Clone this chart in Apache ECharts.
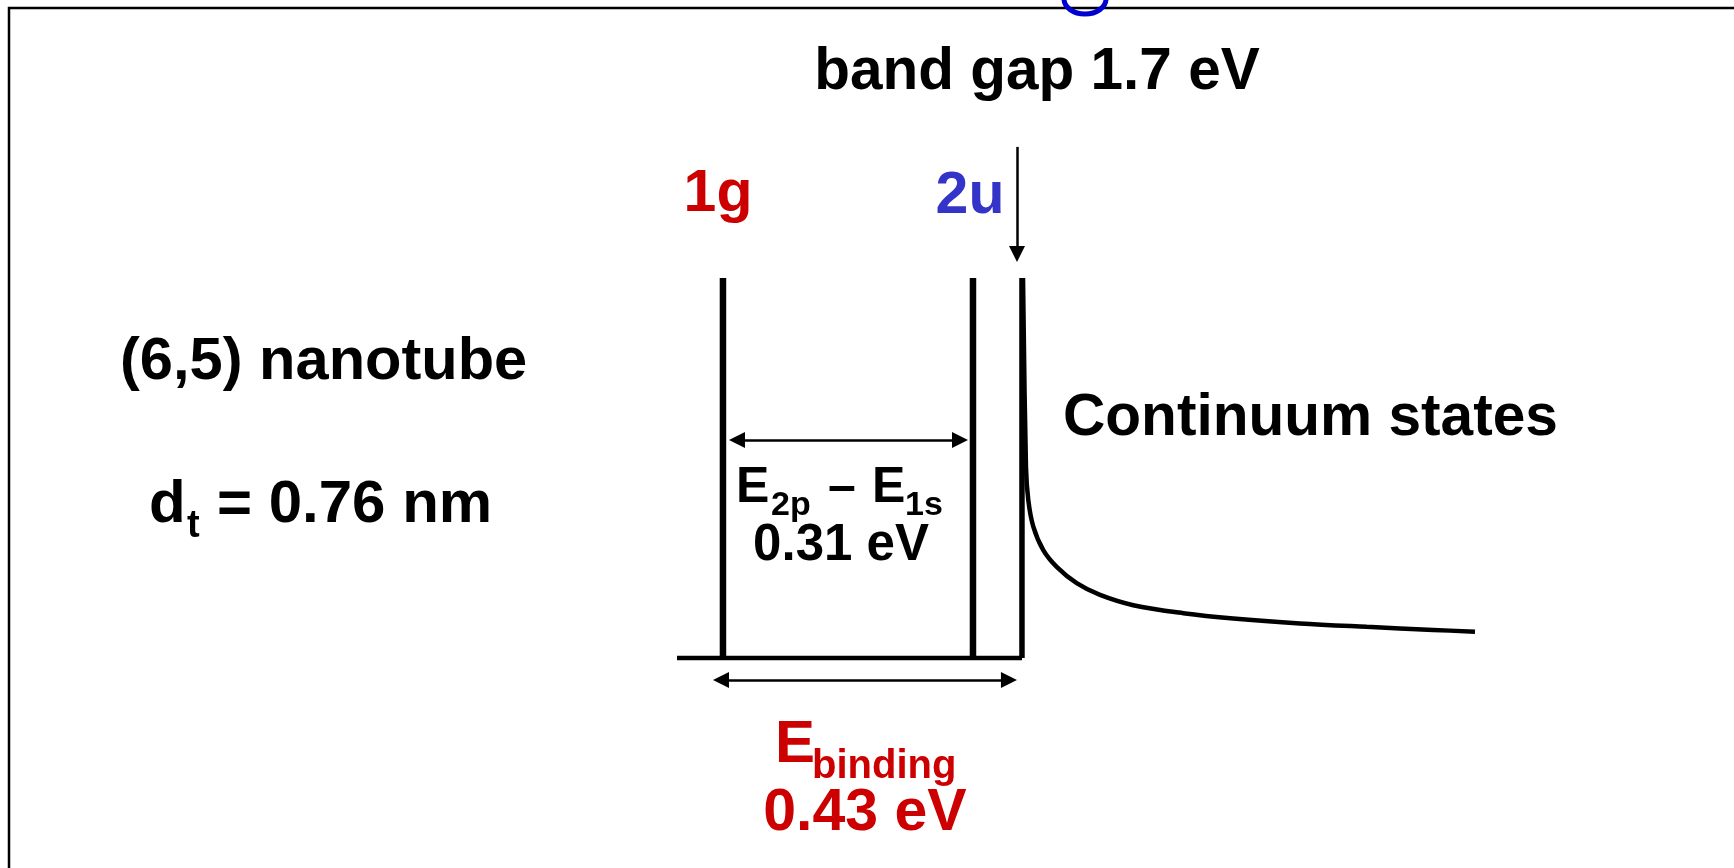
<!DOCTYPE html>
<html>
<head>
<meta charset="utf-8">
<title>(6,5) nanotube exciton states</title>
<script src="https://cdn.jsdelivr.net/npm/echarts@6/dist/echarts.min.js"></script>
<style>
    html, body { margin: 0; padding: 0; background: #fff; }
    #chart { width: 1734px; height: 868px; }
</style>
</head>
<body>
<div id="chart"></div>
<script>
// schematic energy axis (arbitrary units), intensity 0..1
const peakLabels = ['1g', '2u'];
const peakX = [5.76, 37.09];
const peakTop = 1;
const edgeX = 43.23;
const baseX = [0, 43.23];
const contX = [43.36, 43.73, 44.02, 44.65, 45.9, 47.58, 50.09, 53.01, 57.18, 63.45, 69.71, 78.07, 86.43, 94.77, 100];
const contY = [1.0, 0.503, 0.416, 0.346, 0.284, 0.24, 0.197, 0.166, 0.139, 0.118, 0.104, 0.091, 0.082, 0.074, 0.069];
// arrows: [x1, y1, x2, y2]
const gapArrow = [42.61, 1.345, 42.61, 1.063];
const e2pArrow = [7.52, 0.574, 35.46, 0.574];
const bindArrow = [5.51, -0.058, 41.6, -0.058];

const FONT = '"Liberation Sans", Arial, Helvetica, sans-serif';
const RED = '#cc0000';
const BLUE = '#3434c8';

function txt(text, x, y, size, color, align) {
    return {
        type: 'text',
        x: x,
        y: y,
        z: 10,
        style: {
            text: text,
            fontSize: size,
            fontWeight: 'bold',
            fontFamily: FONT,
            fill: color || '#000',
            align: align || 'left',
            verticalAlign: 'middle'
        }
    };
}

function vline(x, width) {
    return {
        type: 'line',
        data: [[x, 0], [x, peakTop]],
        symbol: 'none',
        clip: false,
        silent: true,
        lineStyle: { color: '#000', width: width }
    };
}

const chart = echarts.init(document.getElementById('chart'));

const option = {
    animation: false,
    backgroundColor: '#fff',
    grid: { left: 677, right: 259, top: 126, bottom: 134 },
    xAxis: { type: 'value', min: 0, max: 100, show: false },
    yAxis: { type: 'value', min: -0.2, max: 1.4, show: false },
    series: [
        {
            name: 'baseline',
            type: 'line',
            data: baseX.map(x => [x, 0]),
            symbol: 'none',
            clip: false,
            silent: true,
            lineStyle: { color: '#000', width: 4.5 },
            markLine: {
                silent: true,
                symbol: ['triangle', 'triangle'],
                symbolSize: [16, 16],
                label: { show: false },
                emphasis: { disabled: true },
                lineStyle: { color: '#000', width: 2.5, type: 'solid' },
                data: [
                    [{ coord: [e2pArrow[0], e2pArrow[1]] }, { coord: [e2pArrow[2], e2pArrow[3]] }],
                    [{ coord: [bindArrow[0], bindArrow[1]] }, { coord: [bindArrow[2], bindArrow[3]] }],
                    [{ coord: [gapArrow[0], gapArrow[1]], symbol: 'none' }, { coord: [gapArrow[2], gapArrow[3]] }]
                ]
            }
        },
        Object.assign(vline(peakX[0], 6.5), { name: peakLabels[0] }),
        Object.assign(vline(peakX[1], 6.5), { name: peakLabels[1] }),
        Object.assign(vline(edgeX, 5.5), { name: 'edge' }),
        {
            name: 'continuum',
            type: 'line',
            data: contX.map((x, i) => [x, contY[i]]),
            symbol: 'none',
            smooth: 0.35,
            clip: false,
            silent: true,
            lineStyle: { color: '#000', width: 4.5 }
        }
    ],
    graphic: [
        {
            type: 'polyline',
            shape: { points: [[9, 868], [9, 8], [1734, 8]] },
            style: { stroke: '#000', lineWidth: 2.5, fill: null }
        },
        {
            type: 'ellipse',
            z: 5,
            shape: { cx: 1085, cy: -1, rx: 21, ry: 15 },
            style: { stroke: '#0000d0', lineWidth: 5, fill: null }
        },
        txt('band gap 1.7 eV', 1037, 73, 58.5, '#000', 'center'),
        txt(peakLabels[0], 718, 195, 59, RED, 'center'),
        txt(peakLabels[1], 970, 197, 59, BLUE, 'center'),
        txt('(6,5) nanotube', 120, 363, 59.6),
        txt('d', 149, 505, 60),
        txt('t', 187, 527, 38),
        txt('= 0.76 nm', 217, 505, 60),
        txt('E', 736, 488, 50),
        txt('2p', 771, 506, 34),
        txt('\u2013', 842, 488, 50, '#000', 'center'),
        txt('E', 872, 488, 50),
        txt('1s', 905, 506, 34),
        txt('0.31 eV', 841, 546, 51, '#000', 'center'),
        txt('E', 775, 745, 60, RED),
        txt('binding', 812, 767, 40, RED),
        txt('0.43 eV', 865, 814, 59, RED, 'center'),
        txt('Continuum states', 1063, 419, 58.6)
    ]
};

chart.setOption(option);

window.addEventListener('resize', function () {
    chart.resize();
});
</script>
</body>
</html>
